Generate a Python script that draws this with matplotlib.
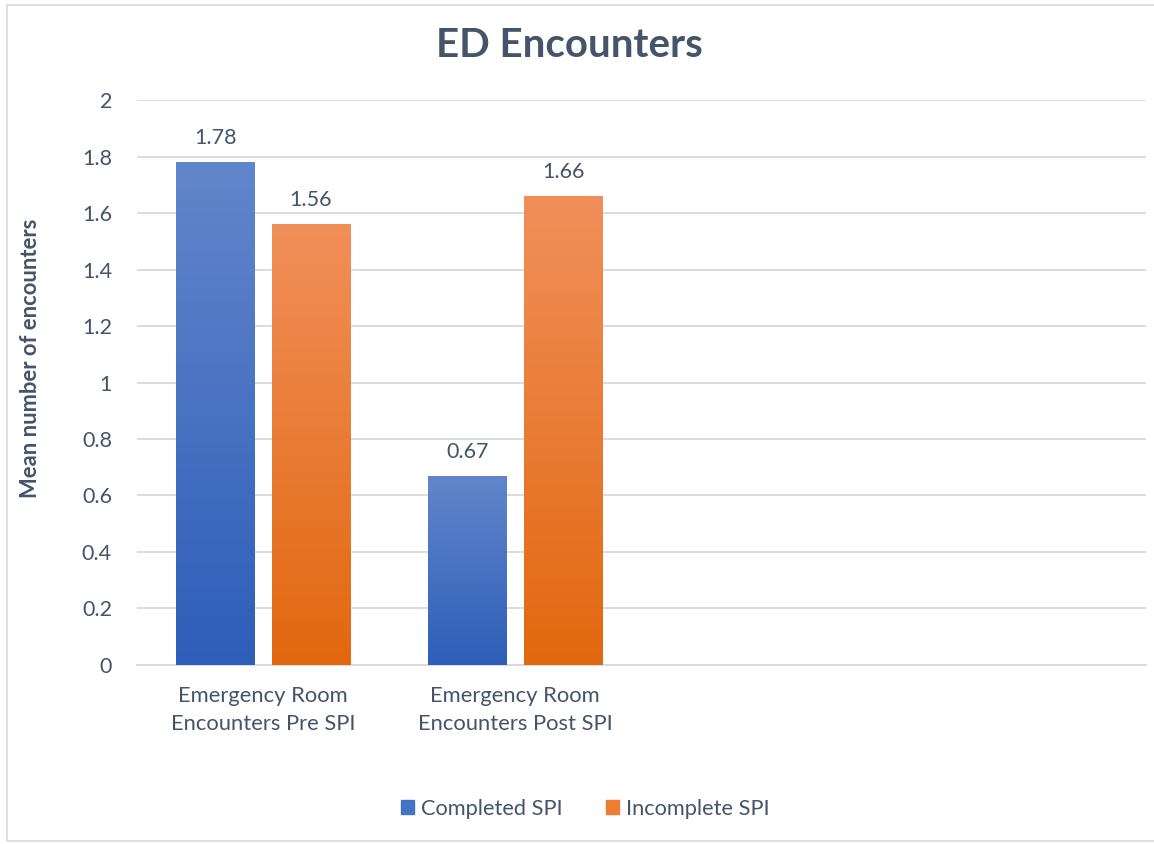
import numpy as np
import matplotlib.pyplot as plt
from matplotlib.colors import LinearSegmentedColormap
from matplotlib.patches import Rectangle

categories = ['Emergency Room\nEncounters Pre SPI', 'Emergency Room\nEncounters Post SPI', '', '']
completed = [1.78, 0.67]
incomplete = [1.56, 1.66]
series_names = ['Completed SPI', 'Incomplete SPI']

txt = '#44546A'
plt.rcParams['font.family'] = ['Lato', 'DejaVu Sans']

fig = plt.figure(figsize=(11.54, 8.44), dpi=100)
ax = fig.add_axes([0.1187, 0.2121, 0.993 - 0.1187, 0.8815 - 0.2121])

# outer frame like the office chart
fig.patches.append(Rectangle((7 / 1154, 3 / 844), 1.1, 1 - 8 / 844, transform=fig.transFigure,
                             fill=False, edgecolor='#D9D9D9', linewidth=1.2))

x = np.arange(len(categories))
w = 0.31
off = 0.19

blue_cm = LinearSegmentedColormap.from_list('b', ['#2E5EB9', '#6286CB'])
orange_cm = LinearSegmentedColormap.from_list('o', ['#E2680F', '#F18F5A'])

b1 = ax.bar(x[:2] - off, completed, w, color='#4472C4', zorder=2)
b2 = ax.bar(x[:2] + off, incomplete, w, color='#ED7D31', zorder=2)

grad = np.linspace(0, 1, 256).reshape(-1, 1)
for bars, cm in [(b1, blue_cm), (b2, orange_cm)]:
    for b in bars:
        x0, y0 = b.get_x(), b.get_y()
        im = ax.imshow(grad, cmap=cm, origin='lower', aspect='auto', zorder=3,
                       extent=[x0, x0 + b.get_width(), y0, y0 + b.get_height()])
        im.set_clip_path(b)

for bars, vals in [(b1, completed), (b2, incomplete)]:
    for b, v in zip(bars, vals):
        ax.text(b.get_x() + b.get_width() / 2, v + 0.05, f'{v:.2f}', ha='center', va='bottom',
                fontsize=15.5, color=txt, zorder=4)

ax.set_xlim(-0.5, len(categories) - 0.5)
ax.set_ylim(0, 2)
ax.set_yticks(np.arange(0, 2.01, 0.2))
ax.set_yticklabels(['0', '0.2', '0.4', '0.6', '0.8', '1', '1.2', '1.4', '1.6', '1.8', '2'])
ax.set_xticks(x[:2])
ax.set_xticklabels(categories[:2], fontsize=15.8, color=txt, linespacing=1.5)
ax.tick_params(axis='y', length=0, labelsize=15.5, labelcolor=txt, pad=18)
ax.tick_params(axis='x', length=0, pad=15)
ax.grid(axis='y', color='#D9D9D9', linewidth=1.3, zorder=0)
ax.set_axisbelow(True)
for s in ['top', 'right', 'left']:
    ax.spines[s].set_visible(False)
ax.spines['bottom'].set_color('#D9D9D9')
ax.spines['bottom'].set_linewidth(1.3)

ax.set_ylabel('Mean number of encounters', fontsize=15.8, fontweight='bold', color=txt)
ax.yaxis.set_label_coords(-0.095, 0.542)
fig.text(0.4935, 0.946, 'ED Encounters', ha='center', va='center', fontsize=29,
         fontweight='bold', color=txt)

h1 = Rectangle((0, 0), 1, 1, color='#4472C4')
h2 = Rectangle((0, 0), 1, 1, color='#ED7D31')
fig.legend([h1, h2], series_names, loc='center', bbox_to_anchor=(0.507, 0.042), ncol=2,
           frameon=False, fontsize=15.7, labelcolor=txt, handlelength=0.6, handleheight=0.6,
           handletextpad=0.3, columnspacing=2.0)

fig.savefig('out.png', dpi=100)
